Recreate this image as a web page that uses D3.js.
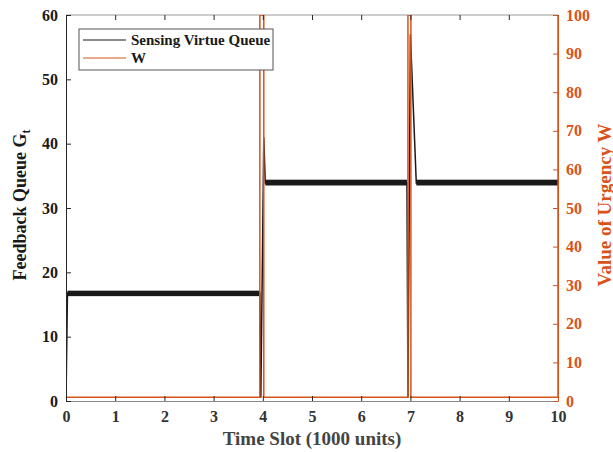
<!DOCTYPE html>
<html>
<head>
<meta charset="utf-8">
<script src="https://cdn.jsdelivr.net/npm/d3@7"></script>
<style>
  body { margin: 0; background: #fff; }
  text { font-family: "Liberation Serif", "Times New Roman", serif; font-weight: bold; }
</style>
</head>
<body>
<div id="chart"></div>
<script>
// data
const queueX = [0, 0.03, 3.94, 3.96, 4.02, 4.05, 6.93, 6.95, 7.0, 7.12, 10];
const queueY = [0, 16.8, 16.8, 0.5, 41, 33.9, 33.9, 0.5, 57, 33.9, 33.9];
// plateau bands (the queue oscillates, giving a thick band)
const bandStart = [0.03, 4.05, 7.12];
const bandEnd = [3.94, 6.93, 10];
const bandLow = [16.3, 33.5, 33.5];
const bandHigh = [17.15, 34.4, 34.4];

const wX = [0, 3.94, 3.94, 4.02, 4.02, 6.95, 6.95, 7.01, 7.01, 10, 10];
const wY = [1, 1, 100, 100, 1, 1, 100, 100, 1, 1, 100];

const xTicks = d3.range(0, 11, 1);
const leftTicks = d3.range(0, 61, 10);
const rightTicks = d3.range(0, 101, 10);

const width = 613, height = 452;
const margin = {top: 15, right: 55, bottom: 51, left: 66};
const innerWidth = width - margin.left - margin.right;
const innerHeight = height - margin.top - margin.bottom;
const orange = "#D95319";
const axisGray = "#262626";

const svg = d3.select("#chart").append("svg")
  .attr("width", width).attr("height", height);

const chart = svg.append("g")
  .attr("transform", `translate(${margin.left},${margin.top})`);

const x = d3.scaleLinear().domain([0, 10]).range([0, innerWidth]);
const yL = d3.scaleLinear().domain([0, 60]).range([innerHeight, 0]);
const yR = d3.scaleLinear().domain([0, 100]).range([innerHeight, 0]);

svg.append("defs").append("clipPath").attr("id", "clip")
  .append("rect").attr("width", innerWidth).attr("height", innerHeight);

// box top line
chart.append("line")
  .attr("x1", 0).attr("x2", innerWidth).attr("y1", 0).attr("y2", 0)
  .attr("stroke", "#999").attr("stroke-width", 1);

// series
const plot = chart.append("g").attr("clip-path", "url(#clip)");

const bands = bandStart.map((s, i) => ({s, e: bandEnd[i], lo: bandLow[i], hi: bandHigh[i]}));
plot.selectAll("rect.band")
  .data(bands)
  .join("rect")
  .attr("class", "band")
  .attr("x", d => x(d.s))
  .attr("width", d => x(d.e) - x(d.s))
  .attr("y", d => yL(d.hi))
  .attr("height", d => yL(d.lo) - yL(d.hi))
  .attr("fill", "#1a1a1a");

const qLine = d3.line().x(d => x(d[0])).y(d => yL(d[1]));
plot.append("path")
  .datum(queueX.map((v, i) => [v, queueY[i]]))
  .attr("d", qLine)
  .attr("fill", "none")
  .attr("stroke", "#1a1a1a")
  .attr("stroke-width", 1.5);

const wLine = d3.line().x(d => x(d[0])).y(d => yR(d[1]));
plot.append("path")
  .datum(wX.map((v, i) => [v, wY[i]]))
  .attr("d", wLine)
  .attr("fill", "none")
  .attr("stroke", orange)
  .attr("stroke-width", 1.5);

// axes
const xAxis = chart.append("g")
  .attr("transform", `translate(0,${innerHeight})`)
  .call(d3.axisBottom(x).tickValues(xTicks).tickSizeInner(-5).tickSizeOuter(0).tickPadding(10));
xAxis.select(".domain").attr("stroke", "#888");
xAxis.selectAll(".tick line").attr("stroke", axisGray);
xAxis.selectAll("text").attr("font-size", "16px").attr("fill", "#333").attr("font-family", "Liberation Serif");

// top ticks
chart.append("g")
  .call(d3.axisTop(x).tickValues(xTicks).tickSizeInner(-5).tickSizeOuter(0).tickFormat(""))
  .call(g => g.select(".domain").remove())
  .selectAll(".tick line").attr("stroke", axisGray);

const yAxisL = chart.append("g")
  .call(d3.axisLeft(yL).tickValues(leftTicks).tickSizeInner(-5).tickSizeOuter(0).tickPadding(8));
yAxisL.select(".domain").attr("stroke", axisGray);
yAxisL.selectAll(".tick line").attr("stroke", axisGray);
yAxisL.selectAll("text").attr("font-size", "16px").attr("fill", "#1a1a1a").attr("font-family", "Liberation Serif");

const yAxisR = chart.append("g")
  .attr("transform", `translate(${innerWidth},0)`)
  .call(d3.axisRight(yR).tickValues(rightTicks).tickSizeInner(-5).tickSizeOuter(0).tickPadding(8));
yAxisR.select(".domain").attr("stroke", orange);
yAxisR.selectAll(".tick line").attr("stroke", orange);
yAxisR.selectAll("text").attr("font-size", "16px").attr("fill", orange).attr("font-family", "Liberation Serif");

// axis labels
chart.append("text")
  .attr("x", innerWidth / 2)
  .attr("y", innerHeight + 44)
  .attr("text-anchor", "middle")
  .attr("font-size", "19px")
  .attr("fill", "#444")
  .text("Time Slot (1000 units)");

const yLab = chart.append("text")
  .attr("transform", `translate(${-40},${innerHeight / 2 - 3}) rotate(-90)`)
  .attr("text-anchor", "middle")
  .attr("font-size", "18px")
  .attr("fill", "#1a1a1a");
yLab.append("tspan").text("Feedback Queue G");
yLab.append("tspan").attr("font-size", "12px").attr("dy", 4).text("t");

chart.append("text")
  .attr("transform", `translate(${innerWidth + 53},${innerHeight / 2 - 3}) rotate(-90)`)
  .attr("text-anchor", "middle")
  .attr("font-size", "19px")
  .attr("fill", orange)
  .text("Value of Urgency W");

// legend
const legend = svg.append("g").attr("transform", "translate(79,29)");
legend.append("rect")
  .attr("width", 194).attr("height", 41)
  .attr("fill", "#fff").attr("stroke", "#555").attr("stroke-width", 1);

const legendNames = ["Sensing Virtue Queue", "W"];
const legendColors = ["#1a1a1a", orange];
legendNames.forEach((name, i) => {
  const row = legend.append("g").attr("transform", `translate(0,${11 + i * 18})`);
  row.append("line")
    .attr("x1", 4).attr("x2", 47)
    .attr("stroke", legendColors[i]).attr("stroke-width", 1.2);
  row.append("text")
    .attr("x", 52).attr("y", 5)
    .attr("font-size", "15px")
    .attr("fill", "#1a1a1a")
    .text(name);
});
</script>
</body>
</html>
